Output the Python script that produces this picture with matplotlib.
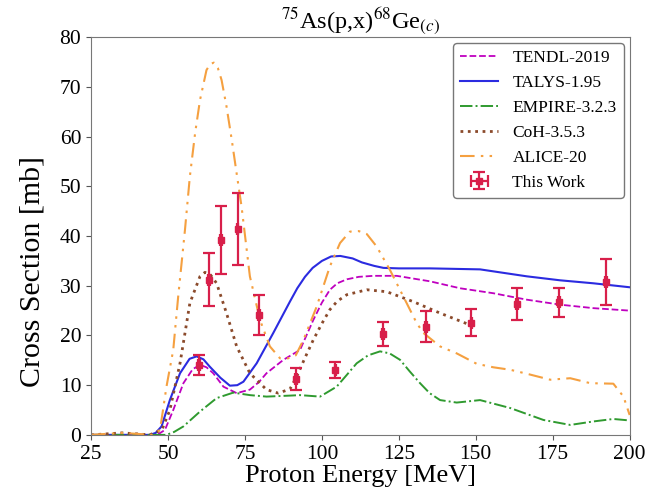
import matplotlib
matplotlib.use('Agg')
import matplotlib.pyplot as plt

plt.rcParams['font.family'] = 'Liberation Serif'
plt.rcParams['mathtext.fontset'] = 'stix'

# ============== DATA ==============

# This Work
exp_E = [60.1, 63.2, 67.2, 72.6, 79.5, 91.5, 104.4, 119.9, 133.7, 148.6, 163.3, 177.0, 192.3]
exp_xs = [14.1, 31.2, 39.2, 41.4, 24.1, 11.3, 13.0, 20.3, 21.8, 22.6, 26.3, 26.7, 30.7]
exp_dxs = [2.0, 5.3, 6.9, 7.2, 4.1, 2.2, 1.6, 2.4, 3.1, 2.8, 3.2, 2.9, 4.6]
exp_dE = [0.3] * 13

# TENDL-2019
tendl_E = [25, 45, 47, 49, 51.7, 55, 58, 60.4, 62.5, 64.7, 68, 72.3, 76.6, 79.5, 82,
           87.5, 92.9, 97.2, 100, 102.6, 105, 108.1, 112, 116.7, 124.3, 135.1, 144.9,
           155.7, 166.6, 177.4, 188.2, 200]
tendl_xs = [0, 0, 0.2, 1.0, 5.0, 10.4, 13.2, 14.1, 13.6, 12.4, 9.7, 8.4, 9.1, 10.6, 12.4,
            15.1, 17.1, 23.1, 26.6, 29.2, 30.5, 31.3, 31.8, 32.0, 32.0, 30.9, 29.5, 28.5,
            27.2, 26.2, 25.5, 25.0]

# TALYS-1.95
talys_E = [25, 44.1, 46, 47.9, 50.6, 53.9, 57, 59.3, 61.5, 63.6, 67, 70.1, 72.5, 74.5,
           78.8, 84.2, 89.6, 92, 94.5, 97, 100, 103, 106, 110, 113, 117, 120, 125,
           135.1, 151.4, 157.9, 166.6, 177.4, 188.2, 200]
talys_xs = [0, 0, 0.4, 1.7, 7.0, 12.4, 15.3, 15.8, 15.2, 13.7, 11.5, 9.9, 10.0, 10.7,
            14.4, 20.5, 26.8, 29.5, 31.8, 33.6, 35.0, 35.9, 36.0, 35.5, 34.7, 34.0, 33.6,
            33.5, 33.5, 33.3, 32.7, 31.9, 31.1, 30.5, 29.7]

# EMPIRE-3.2.3
empire_E = [25, 49.5, 52, 55, 60.4, 65.8, 71.2, 76.6, 82, 89.6, 92.9, 99.4, 104.8,
            108, 111.3, 115, 118.9, 122, 125.4, 128.5, 131.9, 135, 138.4, 143.8, 151.4,
            161.2, 172, 180.7, 188.2, 194.7, 200]
empire_xs = [0, 0, 0.6, 1.7, 4.7, 7.4, 8.5, 8.0, 7.7, 7.9, 8.0, 7.7, 9.7, 12.0, 14.4,
             16.0, 16.8, 16.4, 15.1, 12.8, 10.4, 8.4, 7.0, 6.5, 7.0, 5.4, 3.0, 2.0, 2.7,
             3.2, 2.9]

# CoH-3.5.3
coh_E = [25, 30, 35, 40, 44, 48, 50.6, 53.9, 57.1, 60.4, 62, 63.8, 65.8, 69, 72.3,
         76.6, 82, 85.8, 89.6, 91.8, 94.5, 97.2, 100, 102.6, 105, 108.1, 114.6, 121.1,
         129.7, 138.4, 148.2]
coh_xs = [0, 0.2, 0.4, 0.2, 0, 1.0, 5.0, 14.4, 26.5, 31.9, 32.7, 32.2, 30.5, 24.5,
          17.8, 12.4, 9.1, 8.4, 9.2, 11.7, 15.5, 19.1, 22.4, 25.2, 26.9, 28.2, 29.2,
          28.8, 26.8, 24.5, 22.1]

# ALICE-20
alice_E = [25, 30, 35, 40, 45, 47.4, 49.5, 51.7, 53.3, 55.5, 57.1, 58.8, 60.4, 62.5,
           63.7, 64.9, 66.2, 67.4, 69.0, 70.7, 72.3, 73.9, 76.6, 79.9, 83.1, 86.4, 89.0,
           91.5, 94, 98.3, 102.6, 105.9, 109.1, 112, 114.6, 117.8, 122.1, 126.5, 130.8,
           133, 138.4, 143.8, 150.3, 155.7, 161.2, 166.6, 174.2, 180.7, 187.2, 194.7,
           198, 200]
alice_xs = [0, 0.2, 0.4, 0.2, 0, 1.0, 9.7, 17.1, 27.8, 41.2, 52.0, 60.7, 67.4, 73.4,
            74.6, 74.9, 73.8, 71.4, 66.1, 59.4, 52.6, 45.9, 31.9, 23.1, 17.8, 15.4, 15.4,
            16.0, 19.1, 25.8, 33.9, 38.6, 40.9, 41.0, 40.4, 37.9, 33.2, 27.8, 22.5, 20.5,
            17.8, 16.4, 14.3, 13.6, 13.1, 12.3, 11.1, 11.4, 10.4, 10.3, 7.7, 4.0]

# ============== PLOT ==============

fig = plt.figure(figsize=(6.6, 4.97), dpi=100)
ax = fig.add_axes([0.138, 0.125, 0.816, 0.80])

ax.plot(tendl_E, tendl_xs, color='m', linestyle='--', linewidth=1.3, label='TENDL-2019')
ax.plot(talys_E, talys_xs, color='#2b2be0', linestyle='-', linewidth=1.5, label='TALYS-1.95')
ax.plot(empire_E, empire_xs, color='#2f9a2f', linestyle='-.', linewidth=1.4, label='EMPIRE-3.2.3')
ax.plot(coh_E, coh_xs, color='#8b4a2b', linestyle=':', linewidth=2.0, label='CoH-3.5.3')
ax.plot(alice_E, alice_xs, color='#f5a040', linewidth=1.5,
        dashes=[7, 3, 1.2, 3, 1.2, 3], label='ALICE-20')
ax.errorbar(exp_E, exp_xs, yerr=exp_dxs, xerr=exp_dE, fmt='s', color='#d81f4a',
            markersize=5, capsize=4, elinewidth=1.6, capthick=1.6, label='This Work')

ax.set_xlim(25, 200)
ax.set_ylim(0, 80)
ax.set_xticks([25, 50, 75, 100, 125, 150, 175, 200])
ax.set_yticks([0, 10, 20, 30, 40, 50, 60, 70, 80])
ax.tick_params(labelsize=15.5, color='#555555')
for s in ax.spines.values():
    s.set_color('#777777')

ax.set_xlabel('Proton Energy [MeV]', fontsize=19, labelpad=1)
ax.set_ylabel('Cross Section [mb]', fontsize=21.5)
ax.yaxis.set_label_coords(-0.085, 0.41)
ax.set_title(r'$^{75}$As(p,x)$^{68}$Ge$_{(c)}$', fontsize=17.5, pad=4)

leg = ax.legend(loc='upper right', fontsize=12.5, framealpha=1, edgecolor='#777777',
                handlelength=2.2, borderaxespad=0.35)

fig.savefig('out.png', dpi=100)
